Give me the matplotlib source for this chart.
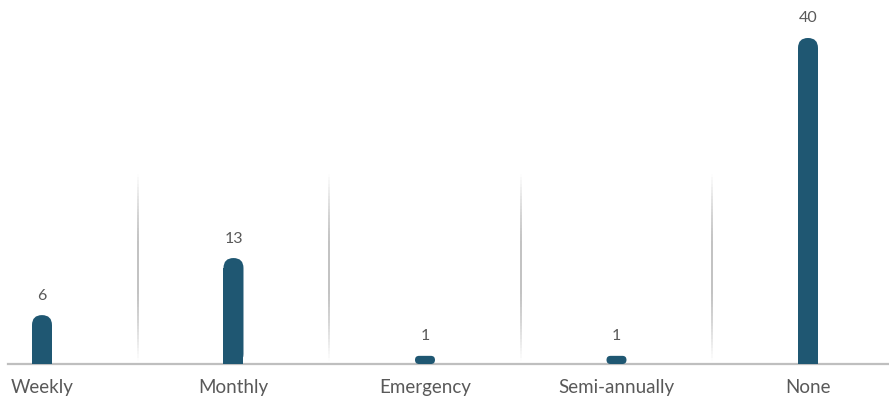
import numpy as np
import matplotlib
matplotlib.use("Agg")
import matplotlib.pyplot as plt
from matplotlib.patches import FancyBboxPatch, Rectangle
from matplotlib.collections import LineCollection
from matplotlib.transforms import IdentityTransform

categories = ["Weekly", "Monthly", "Emergency", "Semi-annually", "None"]
values = [6, 13, 1, 1, 40]

BAR_COLOR = "#1F5772"
TEXT_COLOR = "#595959"
plt.rcParams["font.family"] = ["Lato", "DejaVu Sans"]

fig = plt.figure(figsize=(8.89, 4.01), dpi=100)
ax = fig.add_axes([8 / 889, 37 / 401, 881 / 889, 364 / 401])
ax.set_xlim(-0.1775, 4.423)
ax.set_ylim(0, 44.66)
ax.axis("off")
fig.canvas.draw()

# separators: soft vertical lines fading at both ends
for i in range(len(categories) - 1):
    xs = i + 0.5
    ys = np.linspace(0.4, 23.3, 60)
    segs = [[(xs, ys[k]), (xs, ys[k + 1])] for k in range(len(ys) - 1)]
    mid = (ys[:-1] + ys[1:]) / 2
    t = (mid - ys[0]) / (ys[-1] - ys[0])
    alpha = np.clip(np.sin(np.pi * t) * 1.1, 0, 1)
    cols = [(0.72, 0.72, 0.72, a) for a in alpha]
    ax.add_collection(LineCollection(segs, colors=cols, linewidths=1.2))

# baseline
ax.plot([-0.1775, 4.423], [0, 0], color="#BFBFBF", lw=1.6, clip_on=False)

half = 0.0522
for i, (cat, v) in enumerate(zip(categories, values)):
    (x0, y0) = ax.transData.transform((i - half, 0))
    (x1, y1) = ax.transData.transform((i + half, v))
    w, h = x1 - x0, y1 - y0
    r = min(w / 2, h / 2)
    box = FancyBboxPatch((x0, y0), w, h,
                         boxstyle=f"round,pad=0,rounding_size={r}",
                         transform=IdentityTransform(), fc=BAR_COLOR, ec="none")
    fig.add_artist(box)
    if h > w:
        fig.add_artist(Rectangle((x0, y0), w, h - w / 2, transform=IdentityTransform(),
                                 fc=BAR_COLOR, ec="none"))
    ax.annotate(str(v), (i, v), xytext=(0, 9), textcoords="offset points",
                ha="center", va="bottom", fontsize=11.5, color=TEXT_COLOR)
    ax.text(i, -1.9, cat, ha="center", va="top", fontsize=13.5, color=TEXT_COLOR,
            clip_on=False)

fig.savefig("out.png", dpi=100)
